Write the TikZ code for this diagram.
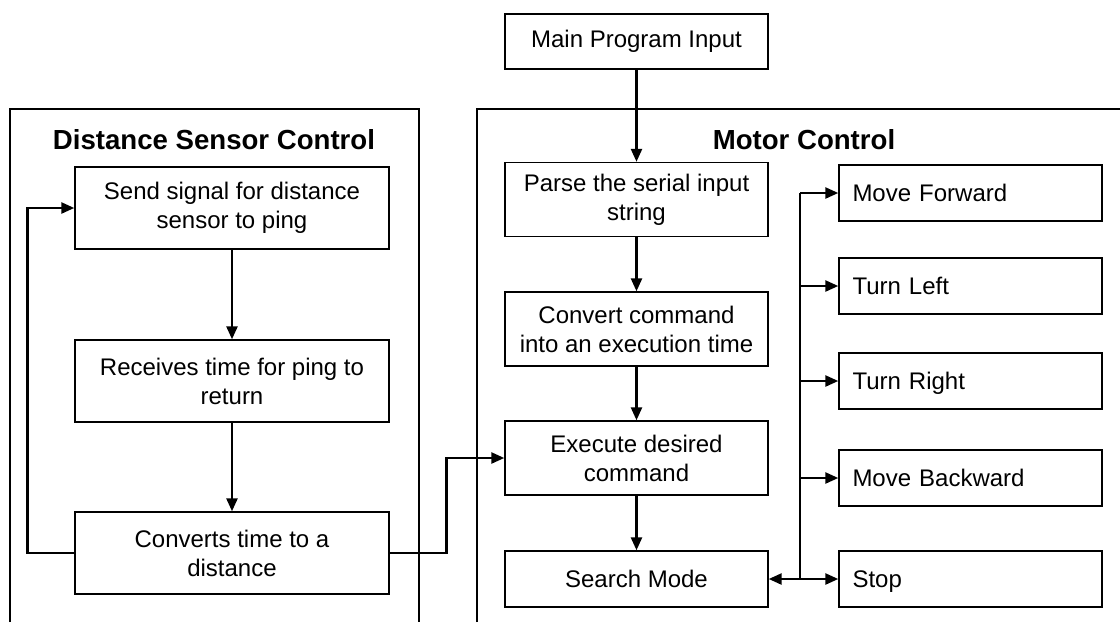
\documentclass[tikz,border=0pt]{standalone}
\usepackage{fontspec}
\setmainfont{Liberation Sans}
\usetikzlibrary{arrows.meta}
\begin{document}
\begin{tikzpicture}[x=.5pt,y=-.5pt,
	every node/.style={font=\fontsize{12}{14.5}\selectfont,inner sep=0pt},
	blk/.style={draw,line width=.7pt,align=center},
	lblk/.style={blk,minimum width=157pt,minimum height=41pt},
	mblk/.style={blk,minimum width=131.5pt,minimum height=37pt},
	rblk/.style={draw,line width=.7pt,align=left,text width=118pt,inner xsep=6.75pt,minimum height=28pt,text height=10.4pt,text depth=2pt},
	ttl/.style={font=\fontsize{13.8}{16}\bfseries\selectfont},
	wire/.style={line width=1.25pt},
	tip/.tip={Triangle[length=6.5pt,width=5.5pt]},
	arr/.style={wire,-tip}]
	\useasboundingbox(0,0)rectangle(1120,622);
	% frames
	\draw[line width=.6pt](10,622)--(10,109)--(419,109)--(419,622);
	\draw[line width=.6pt](477,622)--(477,109)--(1120,109);
	\node[ttl](dsc)at(214,140){Distance Sensor Control};
	\node[ttl](mc)at(804,140){Motor Control};
	% boxes
	\node[blk,minimum width=131.5pt,minimum height=27.5pt](main)at(636.5,41.5){Main Program Input};
	\node[lblk](send)at(232,208){Send signal for distance\\sensor to ping};
	\node[lblk](recv)at(232,381){Receives time for ping to\\return};
	\node[lblk](conv)at(232,553){Converts time to a\\distance};
	\node[mblk](prs)at(636.5,199.5){Parse the serial input\\string};
	\node[mblk](cmd)at(636.5,329){Convert command\\into an execution time};
	\node[mblk](exe)at(636.5,458){Execute desired\\command};
	\node[mblk,minimum height=28pt](srch)at(636.5,579){Search Mode};
	\node[rblk](fwd)at(970.5,193){Move Forward};
	\node[rblk](tl)at(970.5,286){Turn Left};
	\node[rblk](tr)at(970.5,381){Turn Right};
	\node[rblk](bk)at(970.5,478){Move Backward};
	\node[rblk](stop)at(970.5,579){Stop};
	\coordinate(bus)at(800,579);
	% connectors
	\draw[arr](main)--(prs);
	\foreach\a/\b in{send/recv,recv/conv,prs/cmd,cmd/exe,exe/srch}{\draw[arr](\a)--(\b);}
	\draw[arr](conv.west)--++(-47,0)|-(send.west);
	\draw[arr](conv.east)--++(57,0)|-(exe.west);
	\draw[wire](bus)--(bus|-fwd.west);
	\foreach\p in{fwd,tl,tr,bk}{\draw[arr](bus|-\p.west)--(\p.west);}
	\draw[wire,tip-tip](srch.east)--(stop.west);
\end{tikzpicture}
\end{document}
